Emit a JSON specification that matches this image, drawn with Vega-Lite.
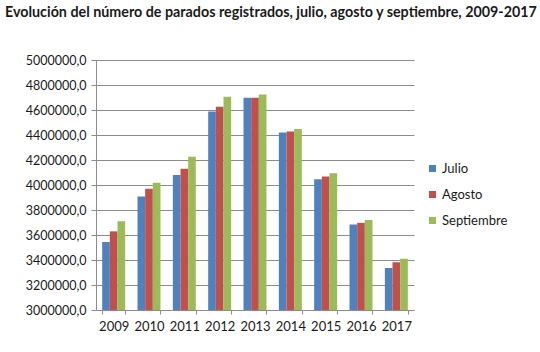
{
  "$schema": "https://vega.github.io/schema/vega-lite/v6.json",
  "width": 318,
  "height": 250,
  "autosize": {"type": "none"},
  "padding": {"left": 96, "top": 60, "right": 126, "bottom": 42},
  "background": "white",
  "title": {
    "text": "Evolución del número de parados registrados, julio, agosto y septiembre, 2009-2017",
    "anchor": "start",
    "frame": "group",
    "dx": -91,
    "offset": 34,
    "font": "Lato",
    "fontSize": 14.3,
    "fontWeight": "bold",
    "color": "#1a1a1a"
  },
  "data": {
    "values": [
      {"year": "2009", "mes": "Julio", "parados": 3544066},
      {"year": "2009", "mes": "Agosto", "parados": 3629080},
      {"year": "2009", "mes": "Septiembre", "parados": 3709447},
      {"year": "2010", "mes": "Julio", "parados": 3908262},
      {"year": "2010", "mes": "Agosto", "parados": 3969661},
      {"year": "2010", "mes": "Septiembre", "parados": 4017763},
      {"year": "2011", "mes": "Julio", "parados": 4079742},
      {"year": "2011", "mes": "Agosto", "parados": 4130927},
      {"year": "2011", "mes": "Septiembre", "parados": 4226744},
      {"year": "2012", "mes": "Julio", "parados": 4587455},
      {"year": "2012", "mes": "Agosto", "parados": 4625634},
      {"year": "2012", "mes": "Septiembre", "parados": 4705279},
      {"year": "2013", "mes": "Julio", "parados": 4698814},
      {"year": "2013", "mes": "Agosto", "parados": 4698783},
      {"year": "2013", "mes": "Septiembre", "parados": 4724355},
      {"year": "2014", "mes": "Julio", "parados": 4419860},
      {"year": "2014", "mes": "Agosto", "parados": 4427930},
      {"year": "2014", "mes": "Septiembre", "parados": 4447650},
      {"year": "2015", "mes": "Julio", "parados": 4046276},
      {"year": "2015", "mes": "Agosto", "parados": 4067955},
      {"year": "2015", "mes": "Septiembre", "parados": 4094042},
      {"year": "2016", "mes": "Julio", "parados": 3683061},
      {"year": "2016", "mes": "Agosto", "parados": 3697496},
      {"year": "2016", "mes": "Septiembre", "parados": 3720297},
      {"year": "2017", "mes": "Julio", "parados": 3335924},
      {"year": "2017", "mes": "Agosto", "parados": 3382324},
      {"year": "2017", "mes": "Septiembre", "parados": 3410182}
    ]
  },
  "mark": {"type": "bar"},
  "encoding": {
    "x": {
      "field": "year",
      "type": "ordinal",
      "scale": {"paddingInner": 0.35, "paddingOuter": 0.175},
      "axis": {
        "title": null,
        "labelAngle": 0,
        "labelFont": "Lato",
        "labelFontSize": 13,
        "labelColor": "#1a1a1a",
        "labelPadding": 6,
        "tickBand": "extent",
        "tickSize": 4,
        "tickColor": "#8c8c8c",
        "domainColor": "#8c8c8c",
        "grid": false
      }
    },
    "xOffset": {
      "field": "mes",
      "type": "nominal",
      "sort": ["Julio", "Agosto", "Septiembre"],
      "scale": {"paddingInner": 0, "paddingOuter": 0}
    },
    "y": {
      "field": "parados",
      "type": "quantitative",
      "scale": {"domain": [3000000, 5000000], "zero": false, "nice": false},
      "axis": {
        "title": null,
        "values": [3000000, 3200000, 3400000, 3600000, 3800000, 4000000, 4200000, 4400000, 4600000, 4800000, 5000000],
        "labelExpr": "replace(format(datum.value, '.1f'), '.', ',')",
        "labelFont": "Lato",
        "labelFontSize": 12.5,
        "labelColor": "#1a1a1a",
        "labelPadding": 5,
        "tickSize": 5,
        "tickColor": "#8c8c8c",
        "domainColor": "#8c8c8c",
        "gridColor": "#8c8c8c",
        "gridWidth": 1
      }
    },
    "y2": {"datum": 3000000},
    "color": {
      "field": "mes",
      "type": "nominal",
      "sort": ["Julio", "Agosto", "Septiembre"],
      "scale": {"domain": ["Julio", "Agosto", "Septiembre"], "range": ["#4F81BD", "#C0504D", "#9BBB59"]},
      "legend": {
        "title": null,
        "orient": "none",
        "legendX": 330,
        "legendY": 102,
        "symbolType": "square",
        "symbolSize": 50,
        "symbolStrokeWidth": 0,
        "labelFont": "Lato",
        "labelFontSize": 13,
        "labelColor": "#1a1a1a",
        "labelOffset": 3,
        "rowPadding": 12
      }
    }
  },
  "config": {
    "view": {"stroke": null}
  }
}
